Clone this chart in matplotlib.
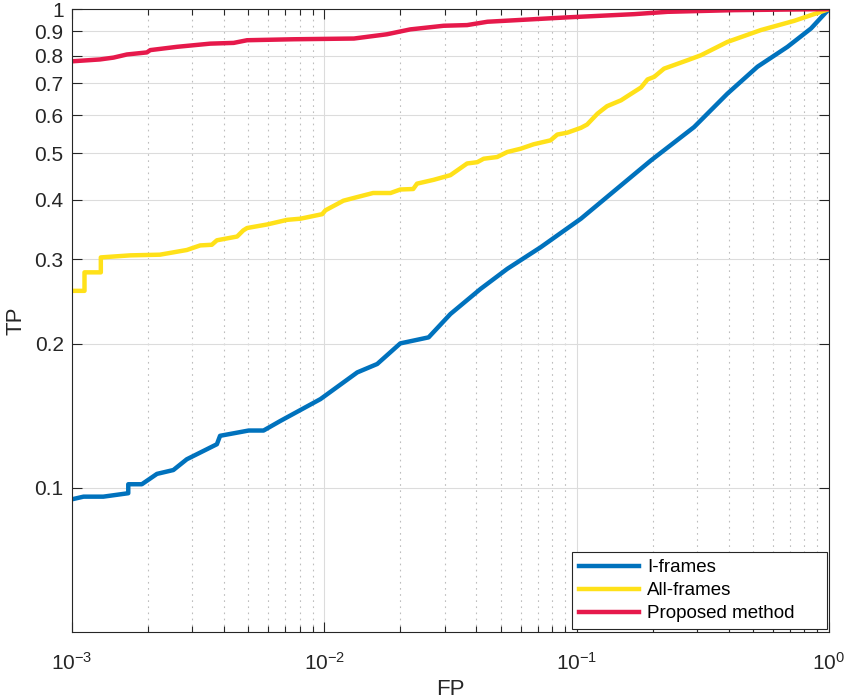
"""ROC-style comparison on log-log axes (MATLAB look)."""

import matplotlib
matplotlib.use("Agg")
import matplotlib.pyplot as plt
from matplotlib.ticker import FixedLocator, LogLocator, NullLocator

plt.rcParams["font.family"] = ["Liberation Sans", "DejaVu Sans"]

# I-frames
iframe_fp = [0.001, 0.00111, 0.00133, 0.00167, 0.00167, 0.00189, 0.00217, 0.00252,
             0.00285, 0.00375, 0.00386, 0.00501, 0.00574, 0.00669, 0.00965, 0.0135,
             0.0162, 0.02, 0.0259, 0.0316, 0.0416, 0.0531, 0.0719, 0.104, 0.197,
             0.292, 0.396, 0.521, 0.685, 0.849, 1.0]
iframe_tp = [0.0947, 0.0959, 0.0959, 0.0975, 0.1018, 0.1018, 0.107, 0.109,
             0.1148, 0.1234, 0.1285, 0.1318, 0.1318, 0.138, 0.1533, 0.1743,
             0.1815, 0.2004, 0.2063, 0.2308, 0.2604, 0.2868, 0.318, 0.365, 0.483,
             0.567, 0.666, 0.758, 0.834, 0.911, 1.0]

# All-frames
allframe_fp = [0.001, 0.00112, 0.00112, 0.0013, 0.0013, 0.0017, 0.00223, 0.00285,
               0.00322, 0.00358, 0.00375, 0.00451, 0.00477, 0.00494, 0.00593,
               0.00712, 0.00804, 0.0098, 0.0101, 0.0119, 0.0135, 0.0156, 0.0183,
               0.02, 0.0225, 0.0233, 0.0271, 0.0316, 0.0368, 0.0404, 0.0428,
               0.0484, 0.0531, 0.06, 0.0675, 0.0788, 0.0838, 0.0918, 0.104, 0.110,
               0.121, 0.132, 0.150, 0.159, 0.180, 0.191, 0.203, 0.222, 0.275,
               0.311, 0.396, 0.537, 0.728, 1.0]
allframe_tp = [0.258, 0.258, 0.282, 0.282, 0.303, 0.306, 0.307, 0.314,
               0.321, 0.322, 0.329, 0.335, 0.345, 0.349, 0.355,
               0.363, 0.365, 0.373, 0.380, 0.398, 0.405, 0.413, 0.413,
               0.420, 0.421, 0.432, 0.440, 0.450, 0.476, 0.479, 0.487,
               0.491, 0.503, 0.511, 0.522, 0.532, 0.547, 0.552, 0.565, 0.574,
               0.605, 0.627, 0.645, 0.658, 0.686, 0.713, 0.722, 0.751, 0.782,
               0.801, 0.854, 0.904, 0.945, 1.0]

# Proposed method
proposed_fp = [0.001, 0.00129, 0.00146, 0.00165, 0.00198, 0.00204, 0.0026, 0.00353,
               0.00437, 0.00494, 0.00755, 0.0131, 0.0177, 0.0219, 0.0297, 0.0368,
               0.0443, 0.0918, 0.169, 0.229, 0.421, 1.0]
proposed_tp = [0.778, 0.785, 0.792, 0.804, 0.812, 0.821, 0.834, 0.847,
               0.850, 0.861, 0.865, 0.868, 0.886, 0.907, 0.923, 0.926,
               0.941, 0.961, 0.976, 0.987, 0.995, 1.0]

y_ticks = [0.1, 0.2, 0.3, 0.4, 0.5, 0.6, 0.7, 0.8, 0.9, 1.0]
y_tick_labels = ["0.1", "0.2", "0.3", "0.4", "0.5", "0.6", "0.7", "0.8", "0.9", "1"]

AXIS_COLOR = "#262626"

fig = plt.figure(figsize=(8.48, 7.0), dpi=100)
ax = fig.add_axes([0.085, 0.097, 0.8925, 0.89])

ax.plot(iframe_fp, iframe_tp, color="#0072BD", lw=3.2, label="I-frames")
ax.plot(allframe_fp, allframe_tp, color="#FFE119", lw=3.2, label="All-frames")
ax.plot(proposed_fp, proposed_tp, color="#E6194B", lw=3.2, label="Proposed method")

ax.set_xscale("log")
ax.set_yscale("log")
ax.set_xlim(1e-3, 1)
ax.set_ylim(0.05, 1)

ax.xaxis.set_major_locator(LogLocator(base=10, numticks=10))
ax.xaxis.set_minor_locator(LogLocator(base=10, subs=range(2, 10), numticks=20))
ax.yaxis.set_major_locator(FixedLocator(y_ticks))
ax.yaxis.set_minor_locator(NullLocator())
ax.set_yticklabels(y_tick_labels)

ax.grid(True, which="major", color="#dcdcdc", lw=0.8, linestyle="-")
ax.grid(True, which="minor", axis="x", color="#bdbdbd", lw=0.8, linestyle=(0, (1.5, 4)))
ax.set_axisbelow(True)

ax.tick_params(which="both", direction="in", top=True, right=True,
               color=AXIS_COLOR, labelsize=15, labelcolor=AXIS_COLOR)
ax.tick_params(which="major", length=7, width=0.8)
ax.tick_params(which="minor", length=4, width=0.8)
ax.tick_params(axis="x", which="major", pad=14)
ax.tick_params(axis="y", which="major", pad=6)
for sp in ax.spines.values():
    sp.set_color(AXIS_COLOR)
    sp.set_linewidth(0.8)

ax.set_xlabel("FP", fontsize=16, color=AXIS_COLOR, labelpad=4)
ax.set_ylabel("TP", fontsize=16, color=AXIS_COLOR, labelpad=6)

# MATLAB-style legend box with extra room on the right
leg = ax.legend(loc="lower left", bbox_to_anchor=(0.661, 0.005, 0.337, 0.12),
                mode="expand", fontsize=13.5, frameon=True, fancybox=False,
                edgecolor=AXIS_COLOR, framealpha=1, borderaxespad=0.0,
                handlelength=3.2, handletextpad=0.45, labelspacing=0.32,
                borderpad=0.35)
leg.get_frame().set_linewidth(0.8)

fig.savefig("out.png", dpi=100)
